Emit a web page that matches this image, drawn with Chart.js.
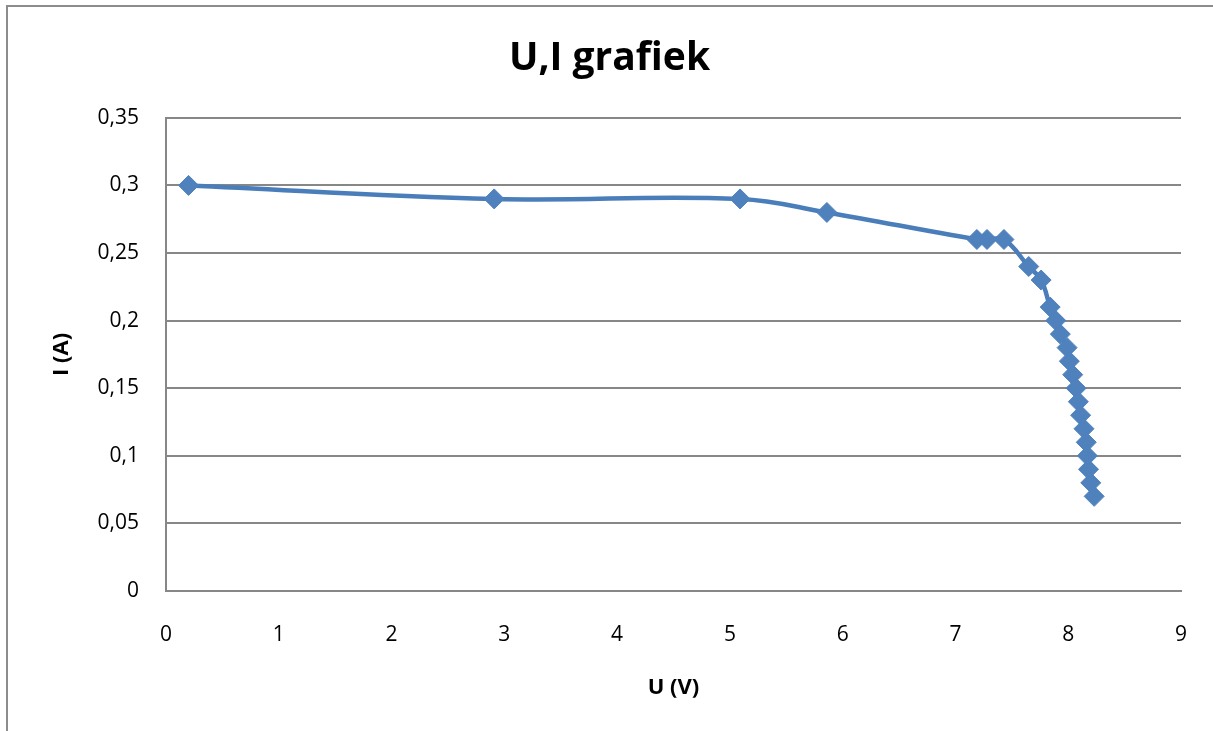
<!DOCTYPE html>
<html>
<head>
<meta charset="utf-8">
<script src="https://cdn.jsdelivr.net/npm/chart.js@4"></script>
<style>
  body { margin: 0; background: #fff; overflow: hidden; }
  #wrap { position: relative; width: 1213px; height: 731px; }
  #frame { position: absolute; left: 6px; top: 5px; width: 1300px; height: 900px;
           border-left: 2px solid #8c8c8c; border-top: 2px solid #8c8c8c; pointer-events: none; }
</style>
</head>
<body>
<div id="wrap">
  <canvas id="chart" width="1213" height="731"></canvas>
  <div id="frame"></div>
</div>
<script>
// meetwaarden
const spanning = [0.2, 2.91, 5.09, 5.86, 7.19, 7.28, 7.43, 7.65, 7.76, 7.84, 7.89, 7.93,
                  7.99, 8.01, 8.04, 8.07, 8.09, 8.11, 8.14, 8.16, 8.17, 8.18, 8.2, 8.23];
const stroom = [0.3, 0.29, 0.29, 0.28, 0.26, 0.26, 0.26, 0.24, 0.23, 0.21, 0.2, 0.19,
                0.18, 0.17, 0.16, 0.15, 0.14, 0.13, 0.12, 0.11, 0.1, 0.09, 0.08, 0.07];

const punten = spanning.map((u, i) => ({ x: u, y: stroom[i] }));
const komma = v => String(Math.round(v * 100) / 100).replace('.', ',');
const grijs = '#878787';
const lettertype = "'Open Sans', 'Noto Sans', sans-serif";

new Chart(document.getElementById('chart'), {
    type: 'scatter',
    data: {
        datasets: [{
            data: punten,
            showLine: true,
            borderColor: '#4a7ebb',
            borderWidth: 4.5,
            tension: 0.4,
            pointStyle: 'rectRot',
            pointRadius: 10,
            pointBackgroundColor: '#4f81bd',
            pointBorderColor: '#4f81bd',
            pointBorderWidth: 1
        }]
    },
    options: {
        responsive: false,
        animation: false,
        layout: { padding: { left: 38, right: 32, top: 0, bottom: 0 } },
        plugins: {
            legend: { display: false },
            tooltip: { enabled: false },
            title: {
                display: true,
                text: 'U,I grafiek',
                color: '#000',
                font: { family: lettertype, size: 39, weight: 'bold', lineHeight: 1.2 },
                padding: { top: 35, bottom: 36 }
            }
        },
        scales: {
            x: {
                type: 'linear',
                min: 0, max: 9,
                afterFit: s => { s.height = 140; },
                // onzichtbare tickstreepjes schuiven de labels omlaag
                grid: { display: true, drawOnChartArea: false, drawTicks: true,
                        tickLength: 31, color: 'rgba(0,0,0,0)' },
                border: { display: true, color: grijs, width: 2 },
                ticks: { stepSize: 1, padding: 0, color: '#000',
                         font: { family: lettertype, size: 21 } },
                title: { display: true, text: 'U (V)', color: '#000',
                         font: { family: lettertype, size: 22, weight: 'bold', lineHeight: 1.2 },
                         padding: { top: 0, bottom: 30 } }
            },
            y: {
                min: 0, max: 0.35,
                afterFit: s => { s.width = 128; },
                grid: { color: grijs, lineWidth: 2, drawTicks: false },
                border: { display: true, color: grijs, width: 2 },
                ticks: { stepSize: 0.05, padding: 27, color: '#000', callback: komma,
                         font: { family: lettertype, size: 21 } },
                title: { display: true, text: 'I (A)', color: '#000',
                         font: { family: lettertype, size: 22, weight: 'bold', lineHeight: 1.2 },
                         padding: { top: 11, bottom: 0 } }
            }
        }
    }
});
</script>
</body>
</html>
